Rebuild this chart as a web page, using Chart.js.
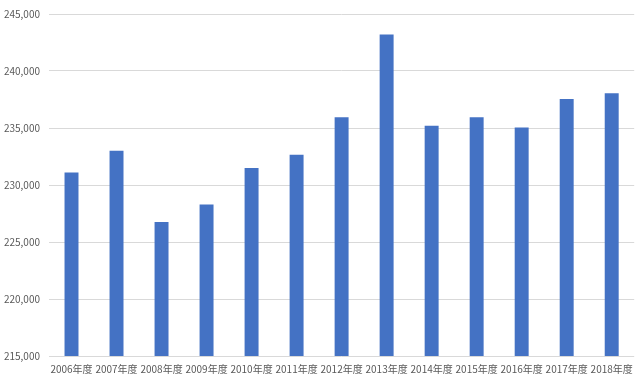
<!DOCTYPE html>
<html>
<head>
<meta charset="utf-8">
<script src="https://cdn.jsdelivr.net/npm/chart.js@4"></script>
<style>
  html, body { margin: 0; padding: 0; background: #fff; }
  #wrap { width: 640px; height: 382px; }
</style>
</head>
<body>
<div id="wrap"><canvas id="chart"></canvas></div>
<script>
// fiscal years on the x axis
const years = ['2006年度', '2007年度', '2008年度', '2009年度', '2010年度', '2011年度', '2012年度',
               '2013年度', '2014年度', '2015年度', '2016年度', '2017年度', '2018年度'];
// values
const values = [231100, 233000, 226750, 228300, 231500, 232650, 235950,
                243200, 235200, 235950, 235050, 237550, 238050];
// y axis range
const yMin = 215000;
const yMax = 245000;
const yStep = 5000;

const family = "'Noto Sans CJK JP', 'Noto Sans', sans-serif";

let ctx = document.getElementById('chart').getContext('2d');
new Chart(ctx, {
  type: 'bar',
  data: {
    labels: years,
    datasets: [{
      data: values,
      backgroundColor: '#4472C4',
      borderWidth: 0,
      barPercentage: 0.62,
      categoryPercentage: 0.5
    }]
  },
  options: {
    responsive: true,
    maintainAspectRatio: false,
    animation: false,
    layout: { padding: { top: 13, right: 5, left: 0, bottom: 0 } },
    plugins: { legend: { display: false }, tooltip: { enabled: false } },
    scales: {
      x: {
        grid: { display: false, drawTicks: false },
        border: { display: false },
        ticks: { color: '#595959', font: { family: family, size: 10 }, padding: 7, maxRotation: 0, autoSkip: false }
      },
      y: {
        min: yMin,
        max: yMax,
        afterFit: function (scale) { scale.width = 49; },
        grid: { color: '#D9D9D9', lineWidth: 1, drawTicks: false },
        border: { display: false },
        ticks: {
          stepSize: yStep,
          color: '#595959',
          font: { family: family, size: 10, lineHeight: 1 },
          padding: 9,
          callback: function (v) { return v.toLocaleString('en-US'); }
        }
      }
    }
  }
});
</script>
</body>
</html>
